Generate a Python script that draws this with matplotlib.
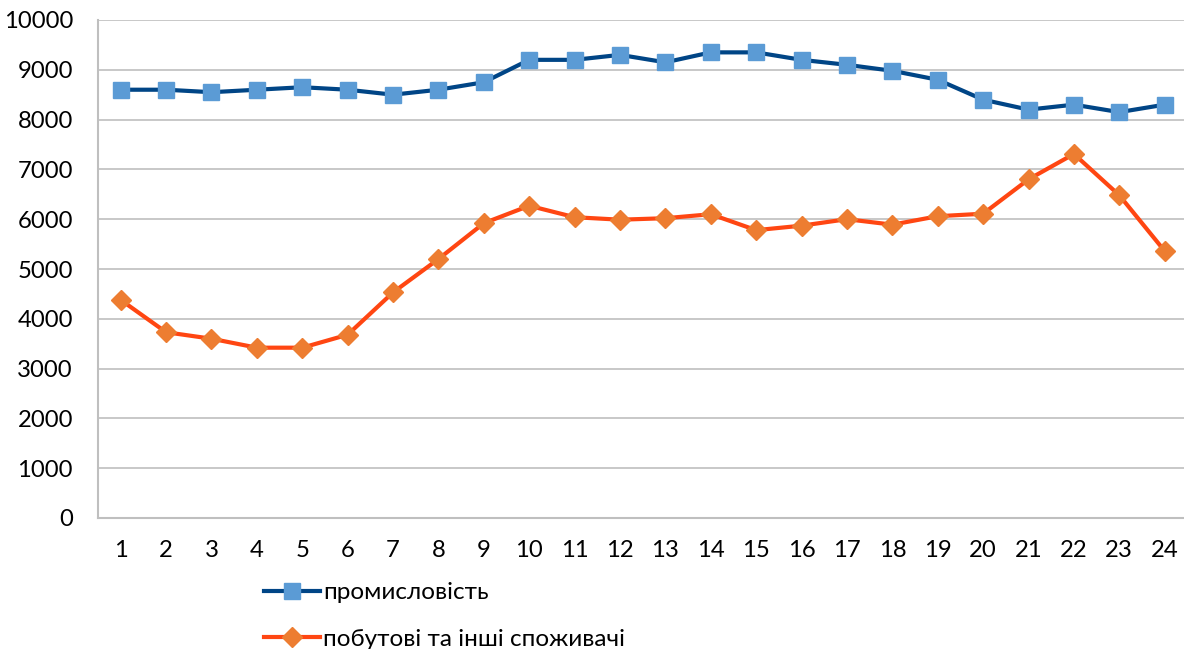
"""
Hourly electric load: industry vs household and other consumers.
"""
import matplotlib.pyplot as plt

hours = list(range(1, 25))
industry = [8600, 8600, 8550, 8600, 8650, 8600, 8500, 8600, 8750, 9200, 9200, 9300,
            9150, 9350, 9350, 9200, 9100, 8980, 8800, 8400, 8200, 8300, 8150, 8300]
household = [4380, 3730, 3600, 3420, 3420, 3680, 4530, 5200, 5920, 6270, 6040, 5990,
             6020, 6100, 5780, 5870, 6000, 5890, 6060, 6110, 6800, 7310, 6480, 5360]
labels = ["промисловість", "побутові та інші споживачі"]
yticks = list(range(0, 10001, 1000))

plt.rcParams["font.family"] = ["Lato", "Open Sans", "DejaVu Sans"]

fig = plt.figure(figsize=(11.84, 6.49), dpi=100)
ax = fig.add_axes([98 / 1184, 131 / 649, 1089.4 / 1184, 498 / 649])

ax.plot(hours, industry, color="#004586", lw=3.0, marker="s", ms=12,
        mfc="#5B9BD5", mec="#5B9BD5", label=labels[0], zorder=3)
ax.plot(hours, household, color="#FF4612", lw=3.0, marker="D", ms=10.5,
        mfc="#ED7D31", mec="#ED7D31", label=labels[1], zorder=3)

ax.set_xlim(0.5, 24.5)
ax.set_ylim(0, 10000)
ax.set_xticks(hours)
ax.set_yticks(yticks)
ax.tick_params(axis="both", length=0, labelsize=17.2, colors="black")
ax.tick_params(axis="y", pad=18)
ax.tick_params(axis="x", pad=16)
ax.grid(axis="y", color="#BFBFBF", lw=1.2)
ax.set_axisbelow(True)
for side in ["top", "right"]:
    ax.spines[side].set_visible(False)
for side in ["left", "bottom"]:
    ax.spines[side].set_color("#BFBFBF")
    ax.spines[side].set_linewidth(1.5)

fig.legend(loc="upper left", bbox_to_anchor=(252 / 1184, 1 - 570 / 649),
           frameon=False, fontsize=17.5, handlelength=2.3, handletextpad=0.12,
           labelspacing=1.05, borderpad=0)

fig.savefig("out.png", dpi=100)
